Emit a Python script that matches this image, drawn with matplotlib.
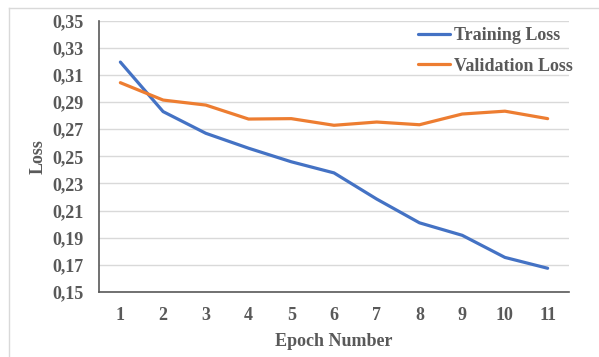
import matplotlib
matplotlib.use("Agg")
import matplotlib.pyplot as plt
from matplotlib.lines import Line2D

epochs = [1, 2, 3, 4, 5, 6, 7, 8, 9, 10, 11]
training_loss = [0.3195, 0.2830, 0.2670, 0.2560, 0.2460, 0.2378, 0.2185, 0.2010, 0.1918, 0.1755, 0.1675]
validation_loss = [0.3043, 0.2915, 0.2878, 0.2775, 0.2778, 0.2729, 0.2753, 0.2733, 0.2812, 0.2833, 0.2778]
yticks = [0.15, 0.17, 0.19, 0.21, 0.23, 0.25, 0.27, 0.29, 0.31, 0.33, 0.35]
ytick_labels = ["0,15", "0,17", "0,19", "0,21", "0,23", "0,25", "0,27", "0,29", "0,31", "0,33", "0,35"]

plt.rcParams['font.family'] = ['Liberation Serif', 'DejaVu Serif']
txt = '#595959'

fig = plt.figure(figsize=(5.99, 3.57), dpi=100)
fig.patch.set_facecolor('white')
fig.add_artist(Line2D([9/599, 1.0], [1 - 8/357, 1 - 8/357], color='#D9D9D9', lw=1, transform=fig.transFigure))
fig.add_artist(Line2D([9/599, 9/599], [0, 1 - 8/357], color='#D9D9D9', lw=1, transform=fig.transFigure))

ax = fig.add_axes([99/599, 1 - 292/357, (569 - 99)/599, (292 - 20.7)/357])
ax.plot(epochs, training_loss, color='#4472C4', lw=2.3, label='Training Loss', solid_capstyle='round')
ax.plot(epochs, validation_loss, color='#ED7D31', lw=2.3, label='Validation Loss', solid_capstyle='round')

ax.set_xlim(0.5, 11.5)
ax.set_ylim(0.15, 0.35)
ax.set_yticks(yticks)
ax.set_yticklabels(ytick_labels)
ax.set_xticks(epochs)
ax.set_xticklabels([str(e) for e in epochs])
ax.grid(axis='y', color='#D9D9D9', lw=1)
ax.set_axisbelow(True)
for s in ['top', 'right']:
    ax.spines[s].set_visible(False)
for s in ['left', 'bottom']:
    ax.spines[s].set_color('#595959')
    ax.spines[s].set_linewidth(1.2)
ax.tick_params(axis='both', length=0, labelsize=13, labelcolor=txt)
ax.tick_params(axis='y', pad=11)
ax.tick_params(axis='x', pad=11)
for lab in ax.get_xticklabels() + ax.get_yticklabels():
    lab.set_fontweight('bold')

ax.set_xlabel('Epoch Number', fontsize=13, fontweight='bold', color=txt, labelpad=6)
ax.set_ylabel('Loss', fontsize=13, fontweight='bold', color=txt, labelpad=4)

leg = ax.legend(loc='upper left', bbox_to_anchor=(0.671, 0.99), frameon=False,
                prop={'weight': 'bold', 'size': 13}, labelcolor=txt,
                handlelength=1.75, handletextpad=0.25, labelspacing=0.75,
                borderpad=0.2, borderaxespad=0)

fig.savefig('out.png', dpi=100, facecolor='white')
